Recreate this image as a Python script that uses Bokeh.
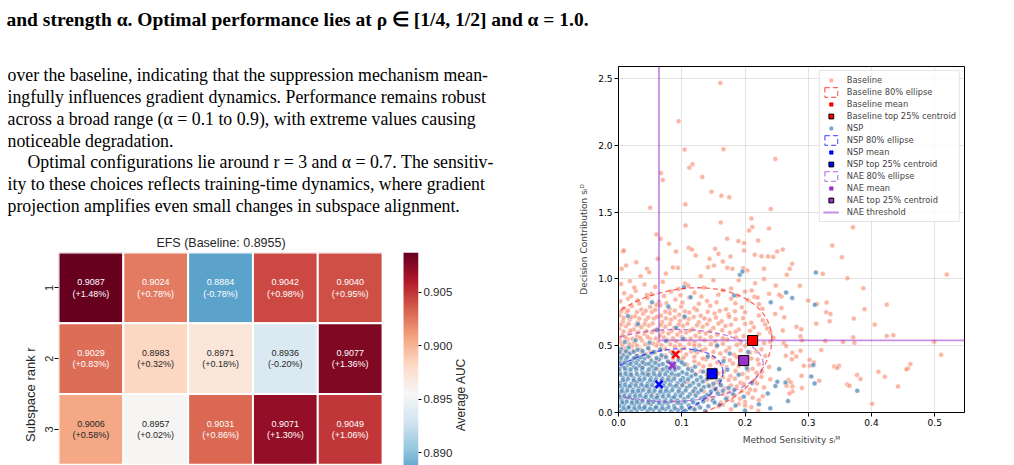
import numpy as np
from bokeh.plotting import figure
from bokeh.models import (Range1d, LinearAxis, FixedTicker, PrintfTickFormatter,
                          LinearColorMapper, ColumnDataSource, Legend, LegendItem)
from bokeh.layouts import column, row
from bokeh.transform import transform
from bokeh.core.properties import value
from bokeh.embed import file_html
from bokeh.resources import INLINE

# ------------------------------------------------------------------ text
caption = "and strength α. Optimal performance lies at ρ ∈ [1/4, 1/2] and α = 1.0."
para_lines = [
    "over the baseline, indicating that the suppression mechanism mean-",
    "ingfully influences gradient dynamics. Performance remains robust",
    "across a broad range (α = 0.1 to 0.9), with extreme values causing",
    "noticeable degradation.",
    "Optimal configurations lie around r = 3 and α = 0.7. The sensitiv-",
    "ity to these choices reflects training-time dynamics, where gradient",
    "projection amplifies even small changes in subspace alignment.",
]
para_indent = [0, 0, 0, 0, 1, 0, 0]

# ------------------------------------------------------------------ heatmap data
alphas = ["0.1", "0.3", "0.5", "0.7", "0.9"]
ranks = [1, 2, 3]
auc = [[0.9087, 0.9024, 0.8884, 0.9042, 0.9040],
       [0.9029, 0.8983, 0.8971, 0.8936, 0.9077],
       [0.9006, 0.8957, 0.9031, 0.9071, 0.9049]]
pct = [["+1.48%", "+0.78%", "-0.78%", "+0.98%", "+0.95%"],
       ["+0.83%", "+0.32%", "+0.18%", "-0.20%", "+1.36%"],
       ["+0.58%", "+0.02%", "+0.86%", "+1.30%", "+1.06%"]]
baseline_auc = 0.8955
cbar_low, cbar_high = 0.8823, 0.9087
cbar_ticks = [0.890, 0.895, 0.900, 0.905]
n_rank_rows = 4  # the heatmap continues below the page crop

# ------------------------------------------------------------------ scatter data
base_pts = [
    (0.161, 2.466), (0.095, 2.181), (0.1045, 1.968), (0.166, 1.971), (0.248, 1.898), (0.117, 1.858),
    (0.112, 1.833), (0.067, 1.793), (0.070, 1.740), (0.1325, 1.763), (0.147, 1.653), (0.1626, 1.623),
    (0.175, 1.611), (0.1056, 1.558), (0.050, 1.533), (0.2407, 1.523), (0.210, 1.453), (0.1615, 1.423),
    (0.106, 1.400), (0.2117, 1.388), (0.2065, 1.363), (0.238, 1.378), (0.060, 1.333), (0.1717, 1.301),
    (0.2207, 1.288), (0.007, 1.205), (0.091, 1.205), (0.111, 1.233), (0.116, 1.220), (0.1527, 1.226),
    (0.177, 1.168), (0.1986, 1.213), (0.2154, 1.181), (0.226, 1.170), (0.2365, 1.168), (0.2508, 1.205),
    (0.2597, 1.220), (0.338, 1.251), (0.353, 1.163), (0.3706, 1.386), (0.2746, 1.113), (0.2708, 1.076),
    (0.266, 1.031), (0.323, 1.038), (0.362, 1.005), (0.519, 1.033), (0.2866, 0.948), (0.387, 0.930),
    (0.2576, 0.868), (0.300, 0.838), (0.314, 0.813), (0.329, 0.823), (0.424, 0.808), (0.2576, 0.783),
    (0.389, 0.773), (0.3284, 0.750), (0.335, 0.738), (0.372, 0.703), (0.3337, 0.683), (0.3126, 0.665),
    (0.405, 0.658), (0.2814, 0.641), (0.289, 0.623), (0.2597, 0.613), (0.2877, 0.570), (0.424, 0.573),
    (0.4345, 0.578), (0.371, 0.563), (0.290, 0.540), (0.327, 0.536), (0.355, 0.528), (0.373, 0.521),
    (0.499, 0.528), (0.2614, 0.518), (0.265, 0.498), (0.510, 0.433), (0.3205, 0.468), (0.2877, 0.463),
    (0.2746, 0.448), (0.2645, 0.425), (0.281, 0.420), (0.302, 0.395), (0.274, 0.398), (0.293, 0.350),
    (0.3025, 0.350), (0.309, 0.375), (0.341, 0.345), (0.3484, 0.350), (0.3458, 0.333), (0.4614, 0.363),
    (0.4577, 0.330), (0.455, 0.323), (0.411, 0.305), (0.377, 0.280), (0.3827, 0.250), (0.421, 0.268),
    (0.2893, 0.275), (0.2687, 0.243), (0.3173, 0.238), (0.2724, 0.225), (0.2656, 0.200), (0.275, 0.195),
    (0.290, 0.183), (0.3617, 0.210), (0.3653, 0.200), (0.4418, 0.195), (0.275, 0.158), (0.2703, 0.143),
    (0.401, 0.065), (0.0085, 1.213), (0.028, 1.125), (0.080, 1.263), (0.045, 1.076), (0.0486, 1.050),
    (0.086, 1.085), (0.094, 1.083), (0.122, 1.176), (0.144, 1.150), (0.158, 1.188), (0.1895, 1.283),
    (0.1986, 1.268), (0.2445, 1.165), (0.1416, 1.088), (0.151, 1.100), (0.172, 1.083), (0.180, 1.076),
    (0.197, 1.080), (0.2038, 1.063), (0.230, 1.076), (0.216, 0.968), (0.2486, 0.950), (0.2106, 0.913),
    (0.238, 0.888), (0.254, 0.881), (0.2276, 0.776), (0.2477, 0.738), (0.262, 0.713), (0.005, 1.076),
    (0.0665, 1.300), (0.012, 1.100), (0.035, 1.020), (0.062, 1.150), (0.075, 1.040), (0.130, 1.020),
    (0.165, 1.130), (0.190, 0.990), (0.230, 1.000),
    # dense core
    (0.004, 0.962), (0.018, 0.985), (0.041, 0.958), (0.070, 0.978), (0.105, 0.966), (0.150, 0.990),
    (0.009, 0.893), (0.027, 0.911), (0.052, 0.887), (0.083, 0.905), (0.120, 0.896), (0.165, 0.915),
    (0.003, 0.832), (0.015, 0.851), (0.030, 0.838), (0.046, 0.857), (0.064, 0.829), (0.090, 0.846),
    (0.112, 0.861), (0.140, 0.835), (0.178, 0.852), (0.205, 0.840),
    (0.008, 0.778), (0.021, 0.796), (0.036, 0.771), (0.050, 0.790), (0.066, 0.802), (0.081, 0.775),
    (0.099, 0.793), (0.120, 0.780), (0.145, 0.799), (0.170, 0.773), (0.195, 0.788),
    (0.002, 0.728), (0.013, 0.746), (0.026, 0.721), (0.039, 0.740), (0.053, 0.752), (0.067, 0.725),
    (0.081, 0.743), (0.096, 0.731), (0.112, 0.749), (0.130, 0.724), (0.152, 0.741), (0.174, 0.733),
    (0.200, 0.750), (0.222, 0.727),
    (0.007, 0.681), (0.018, 0.697), (0.030, 0.673), (0.043, 0.690), (0.056, 0.703), (0.069, 0.677),
    (0.083, 0.694), (0.097, 0.684), (0.111, 0.700), (0.127, 0.675), (0.144, 0.692), (0.163, 0.683),
    (0.185, 0.698), (0.210, 0.672),
    (0.001, 0.628), (0.012, 0.645), (0.024, 0.622), (0.036, 0.639), (0.048, 0.651), (0.061, 0.625),
    (0.074, 0.642), (0.088, 0.632), (0.102, 0.649), (0.117, 0.624), (0.133, 0.641), (0.150, 0.633),
    (0.169, 0.648), (0.190, 0.621), (0.214, 0.638), (0.235, 0.629),
    (0.006, 0.579), (0.017, 0.596), (0.029, 0.572), (0.041, 0.589), (0.053, 0.601), (0.066, 0.575),
    (0.079, 0.592), (0.093, 0.583), (0.107, 0.599), (0.122, 0.574), (0.138, 0.591), (0.156, 0.582),
    (0.176, 0.597), (0.198, 0.571), (0.222, 0.588),
    (0.003, 0.529), (0.014, 0.546), (0.025, 0.522), (0.037, 0.539), (0.050, 0.551), (0.063, 0.525),
    (0.077, 0.542), (0.091, 0.533), (0.105, 0.549), (0.120, 0.523), (0.136, 0.540), (0.153, 0.532),
    (0.172, 0.547), (0.193, 0.521), (0.218, 0.538), (0.240, 0.530),
    (0.009, 0.481), (0.021, 0.497), (0.034, 0.474), (0.047, 0.490), (0.060, 0.502), (0.074, 0.477),
    (0.089, 0.494), (0.104, 0.484), (0.120, 0.499), (0.137, 0.475), (0.155, 0.492), (0.175, 0.483),
    (0.200, 0.498), (0.226, 0.473),
    (0.004, 0.431), (0.016, 0.447), (0.029, 0.424), (0.043, 0.440), (0.058, 0.452), (0.074, 0.427),
    (0.090, 0.444), (0.107, 0.434), (0.124, 0.449), (0.142, 0.425), (0.161, 0.442), (0.183, 0.433),
    (0.208, 0.448), (0.232, 0.423),
    (0.010, 0.381), (0.025, 0.396), (0.041, 0.374), (0.060, 0.390), (0.079, 0.378), (0.100, 0.393),
    (0.120, 0.383), (0.138, 0.398), (0.156, 0.375), (0.176, 0.391), (0.197, 0.382), (0.220, 0.396),
    (0.013, 0.331), (0.037, 0.346), (0.062, 0.324), (0.090, 0.340), (0.115, 0.329), (0.134, 0.344),
    (0.152, 0.322), (0.171, 0.338), (0.190, 0.349), (0.212, 0.327), (0.238, 0.341),
    (0.020, 0.281), (0.050, 0.296), (0.085, 0.274), (0.120, 0.290), (0.140, 0.279), (0.158, 0.294),
    (0.177, 0.272), (0.196, 0.288), (0.218, 0.298),
    (0.030, 0.231), (0.070, 0.246), (0.110, 0.224), (0.137, 0.240), (0.155, 0.229), (0.174, 0.244),
    (0.193, 0.222), (0.215, 0.238), (0.240, 0.248),
    (0.045, 0.181), (0.100, 0.196), (0.130, 0.174), (0.150, 0.190), (0.168, 0.179), (0.187, 0.194),
    (0.208, 0.172), (0.230, 0.188),
    (0.060, 0.131), (0.120, 0.146), (0.145, 0.124), (0.165, 0.140), (0.184, 0.129), (0.205, 0.144),
    (0.228, 0.122),
    (0.090, 0.081), (0.140, 0.096), (0.162, 0.074), (0.180, 0.090), (0.200, 0.079), (0.222, 0.094),
    (0.120, 0.031), (0.158, 0.046), (0.178, 0.024), (0.210, 0.040), (0.221, 0.012),
    (0.004, 0.757), (0.015, 0.763), (0.029, 0.752), (0.043, 0.761), (0.058, 0.768), (0.074, 0.755),
    (0.089, 0.764), (0.105, 0.758), (0.124, 0.766), (0.141, 0.754), (0.160, 0.762), (0.184, 0.757),
    (0.008, 0.708), (0.020, 0.714), (0.033, 0.703), (0.047, 0.711), (0.061, 0.717), (0.075, 0.705),
    (0.089, 0.712), (0.104, 0.707), (0.119, 0.715), (0.136, 0.704), (0.154, 0.711), (0.175, 0.716),
    (0.197, 0.706),
    (0.004, 0.658), (0.016, 0.664), (0.028, 0.653), (0.041, 0.661), (0.054, 0.667), (0.067, 0.655),
    (0.081, 0.662), (0.095, 0.657), (0.109, 0.665), (0.124, 0.654), (0.140, 0.661), (0.158, 0.666),
    (0.178, 0.656), (0.200, 0.663),
    (0.008, 0.607), (0.019, 0.613), (0.031, 0.602), (0.044, 0.610), (0.057, 0.616), (0.070, 0.604),
    (0.084, 0.611), (0.098, 0.606), (0.113, 0.614), (0.128, 0.603), (0.145, 0.610), (0.164, 0.615),
    (0.185, 0.605), (0.208, 0.612),
    (0.002, 0.557), (0.011, 0.563), (0.022, 0.552), (0.034, 0.560), (0.046, 0.566), (0.059, 0.554),
    (0.072, 0.561), (0.086, 0.556), (0.100, 0.564), (0.114, 0.553), (0.129, 0.560), (0.146, 0.565),
    (0.165, 0.555), (0.186, 0.562), (0.208, 0.557),
    (0.006, 0.507), (0.017, 0.513), (0.029, 0.502), (0.042, 0.510), (0.055, 0.516), (0.068, 0.504),
    (0.082, 0.511), (0.097, 0.506), (0.112, 0.514), (0.128, 0.503), (0.146, 0.510), (0.165, 0.515),
    (0.187, 0.505), (0.212, 0.512),
    (0.010, 0.458), (0.023, 0.464), (0.036, 0.453), (0.050, 0.461), (0.066, 0.467), (0.082, 0.455),
    (0.098, 0.462), (0.115, 0.457), (0.132, 0.465), (0.150, 0.454), (0.170, 0.461), (0.193, 0.466),
    (0.218, 0.456),
    (0.050, 0.408), (0.068, 0.414), (0.086, 0.403), (0.103, 0.411), (0.120, 0.417), (0.133, 0.405),
    (0.150, 0.412), (0.167, 0.407), (0.187, 0.415), (0.210, 0.404),
    (0.108, 0.358), (0.127, 0.364), (0.145, 0.353), (0.163, 0.361), (0.181, 0.367), (0.200, 0.355),
    (0.222, 0.362),
    (0.130, 0.308), (0.148, 0.314), (0.166, 0.303), (0.185, 0.311), (0.205, 0.317), (0.227, 0.305),
    (0.146, 0.258), (0.165, 0.264), (0.184, 0.253), (0.204, 0.261), (0.226, 0.267),
    (0.142, 0.208), (0.160, 0.214), (0.178, 0.203), (0.198, 0.211), (0.219, 0.217),
    (0.135, 0.158), (0.156, 0.164), (0.175, 0.153), (0.195, 0.161), (0.216, 0.167),
    (0.150, 0.108), (0.172, 0.114), (0.192, 0.103), (0.212, 0.111),
    (0.165, 0.058), (0.190, 0.064), (0.200, 0.053),
    (0.072, 0.872), (0.098, 0.878), (0.131, 0.869), (0.158, 0.882), (0.188, 0.874), (0.215, 0.866),
    (0.076, 0.818), (0.101, 0.823), (0.127, 0.814), (0.155, 0.826), (0.185, 0.817), (0.222, 0.811),
    (0.095, 0.924), (0.135, 0.935), (0.178, 0.928), (0.058, 0.940), (0.025, 0.935),
    (0.228, 0.690), (0.232, 0.660), (0.240, 0.600), (0.245, 0.560), (0.230, 0.520),
    (0.110, 0.950), (0.200, 0.905), (0.220, 0.860), (0.045, 0.880), (0.020, 0.870), (0.060, 0.805),
    (0.033, 0.815),
]

nsp_pts = [
    (0.312, 1.048), (0.265, 0.898), (0.2746, 0.858), (0.3104, 0.806), (0.308, 0.355), (0.3047, 0.270),
    (0.310, 0.218), (0.3775, 0.163), (0.268, 0.086), (0.192, 1.031), (0.196, 1.055), (0.114, 0.863),
    (0.1035, 0.938), (0.1827, 0.876), (0.1045, 0.718), (0.2407, 0.825), (0.053, 0.825), (0.0787, 0.793),
    (0.251, 0.230), (0.254, 0.325), (0.264, 0.225),
    (0.004, 0.012), (0.012, 0.021), (0.020, 0.008), (0.029, 0.018), (0.037, 0.026), (0.046, 0.010),
    (0.055, 0.020), (0.065, 0.014), (0.074, 0.024), (0.083, 0.009), (0.094, 0.019), (0.106, 0.013),
    (0.120, 0.022), (0.137, 0.011),
    (0.002, 0.050), (0.009, 0.062), (0.017, 0.045), (0.025, 0.057), (0.033, 0.066), (0.042, 0.049),
    (0.051, 0.060), (0.060, 0.044), (0.069, 0.055), (0.078, 0.067), (0.088, 0.048), (0.099, 0.059),
    (0.111, 0.052), (0.125, 0.064), (0.142, 0.047), (0.160, 0.058),
    (0.005, 0.094), (0.013, 0.105), (0.022, 0.088), (0.030, 0.100), (0.039, 0.110), (0.048, 0.092),
    (0.057, 0.103), (0.065, 0.087), (0.074, 0.098), (0.084, 0.109), (0.093, 0.091), (0.104, 0.101),
    (0.117, 0.094), (0.131, 0.106), (0.149, 0.090), (0.170, 0.102),
    (0.001, 0.136), (0.010, 0.147), (0.018, 0.130), (0.027, 0.142), (0.035, 0.152), (0.044, 0.134),
    (0.053, 0.145), (0.062, 0.129), (0.071, 0.140), (0.080, 0.151), (0.090, 0.133), (0.101, 0.144),
    (0.113, 0.137), (0.126, 0.149), (0.140, 0.131), (0.157, 0.143), (0.181, 0.138),
    (0.006, 0.178), (0.014, 0.189), (0.023, 0.172), (0.032, 0.184), (0.040, 0.194), (0.049, 0.176),
    (0.058, 0.187), (0.067, 0.171), (0.076, 0.182), (0.086, 0.193), (0.096, 0.175), (0.108, 0.186),
    (0.121, 0.179), (0.135, 0.191), (0.153, 0.174), (0.174, 0.185),
    (0.003, 0.220), (0.011, 0.231), (0.020, 0.214), (0.028, 0.226), (0.037, 0.236), (0.046, 0.218),
    (0.055, 0.229), (0.064, 0.213), (0.073, 0.224), (0.083, 0.235), (0.093, 0.217), (0.104, 0.228),
    (0.118, 0.221), (0.133, 0.232), (0.150, 0.216),
    (0.007, 0.262), (0.015, 0.273), (0.024, 0.256), (0.033, 0.268), (0.042, 0.278), (0.051, 0.260),
    (0.060, 0.271), (0.069, 0.255), (0.079, 0.266), (0.090, 0.277), (0.102, 0.259), (0.115, 0.270),
    (0.130, 0.263), (0.147, 0.275),
    (0.002, 0.304), (0.011, 0.315), (0.019, 0.298), (0.028, 0.310), (0.037, 0.320), (0.046, 0.302),
    (0.056, 0.313), (0.066, 0.297), (0.077, 0.308), (0.089, 0.319), (0.101, 0.301), (0.116, 0.312),
    (0.134, 0.305),
    (0.006, 0.346), (0.015, 0.357), (0.024, 0.340), (0.033, 0.352), (0.043, 0.362), (0.053, 0.344),
    (0.064, 0.355), (0.076, 0.339), (0.089, 0.350), (0.104, 0.361), (0.121, 0.343),
    (0.003, 0.388), (0.012, 0.399), (0.021, 0.382), (0.031, 0.394), (0.041, 0.404), (0.052, 0.386),
    (0.064, 0.397), (0.078, 0.381), (0.095, 0.392),
    (0.008, 0.430), (0.018, 0.441), (0.029, 0.424), (0.040, 0.436), (0.053, 0.446), (0.068, 0.428),
    (0.086, 0.439),
    (0.004, 0.475), (0.016, 0.486), (0.030, 0.469), (0.047, 0.481), (0.066, 0.472),
    (0.010, 0.528), (0.027, 0.541), (0.049, 0.523), (0.075, 0.536),
    (0.185, 0.052), (0.198, 0.118), (0.211, 0.221), (0.190, 0.283), (0.222, 0.061), (0.203, 0.332),
    (0.166, 0.384), (0.141, 0.418), (0.121, 0.468), (0.102, 0.552), (0.061, 0.618), (0.031, 0.662),
    (0.015, 0.721), (0.091, 0.634), (0.236, 0.142), (0.248, 0.198), (0.240, 0.031), (0.176, 0.441),
    (0.156, 0.502), (0.205, 0.452), (0.160, 0.240), (0.172, 0.320), (0.183, 0.170), (0.200, 0.015),
    (0.008, 0.034), (0.016, 0.038), (0.025, 0.031), (0.033, 0.040), (0.041, 0.035), (0.050, 0.029),
    (0.059, 0.037), (0.069, 0.032), (0.079, 0.039), (0.089, 0.030), (0.100, 0.036), (0.113, 0.033),
    (0.129, 0.038),
    (0.006, 0.076), (0.013, 0.081), (0.021, 0.072), (0.029, 0.079), (0.038, 0.084), (0.047, 0.074),
    (0.055, 0.080), (0.064, 0.071), (0.073, 0.078), (0.083, 0.085), (0.094, 0.073), (0.105, 0.080),
    (0.118, 0.076), (0.134, 0.083), (0.152, 0.074),
    (0.002, 0.118), (0.009, 0.124), (0.017, 0.114), (0.026, 0.121), (0.034, 0.127), (0.043, 0.116),
    (0.052, 0.122), (0.061, 0.113), (0.070, 0.120), (0.079, 0.126), (0.088, 0.115), (0.098, 0.123),
    (0.110, 0.118), (0.122, 0.126), (0.136, 0.115),
    (0.005, 0.159), (0.014, 0.165), (0.022, 0.156), (0.031, 0.162), (0.039, 0.168), (0.048, 0.157),
    (0.057, 0.163), (0.066, 0.155), (0.075, 0.161), (0.085, 0.167), (0.095, 0.158), (0.106, 0.164),
    (0.118, 0.160), (0.131, 0.166), (0.146, 0.157), (0.165, 0.163),
    (0.002, 0.200), (0.010, 0.206), (0.018, 0.197), (0.027, 0.203), (0.036, 0.209), (0.045, 0.198),
    (0.053, 0.204), (0.062, 0.196), (0.071, 0.202), (0.081, 0.208), (0.091, 0.199), (0.101, 0.205),
    (0.113, 0.201), (0.127, 0.207), (0.143, 0.198), (0.162, 0.204),
    (0.007, 0.243), (0.015, 0.249), (0.024, 0.240), (0.033, 0.246), (0.041, 0.252), (0.050, 0.241),
    (0.059, 0.247), (0.068, 0.239), (0.078, 0.245), (0.088, 0.251), (0.098, 0.242), (0.110, 0.248),
    (0.124, 0.244), (0.140, 0.250),
    (0.003, 0.284), (0.011, 0.290), (0.020, 0.281), (0.029, 0.287), (0.038, 0.293), (0.047, 0.282),
    (0.056, 0.288), (0.065, 0.280), (0.074, 0.286), (0.084, 0.292), (0.095, 0.283), (0.108, 0.289),
    (0.122, 0.285),
    (0.001, 0.326), (0.010, 0.332), (0.019, 0.323), (0.028, 0.329), (0.038, 0.335), (0.048, 0.324),
    (0.059, 0.330), (0.070, 0.322), (0.082, 0.328), (0.095, 0.334), (0.110, 0.325),
    (0.002, 0.367), (0.010, 0.373), (0.019, 0.364), (0.028, 0.370), (0.038, 0.376), (0.048, 0.365),
    (0.058, 0.371), (0.070, 0.363), (0.084, 0.369), (0.100, 0.375),
    (0.004, 0.410), (0.014, 0.416), (0.024, 0.407), (0.035, 0.413), (0.047, 0.419), (0.060, 0.408),
    (0.075, 0.414),
    (0.002, 0.452), (0.012, 0.458), (0.024, 0.455), (0.038, 0.461), (0.056, 0.453),
]

groups = ["Baseline", "NSP", "NAE"]
group_colors = ["red", "blue", "darkorchid"]
means = [(0.0904, 0.434), (0.0641, 0.210), (0.0847, 0.352)]
top25 = [(0.212, 0.539), (0.148, 0.290), (0.198, 0.389)]
# 80% ellipse: half extent along x, half extent along y, correlation
ell_extent = [(0.152, 0.50), (0.101, 0.267), (0.144, 0.27)]
ell_corr = [0.23, 0.35, 0.05]
nae_tau_x, nae_tau_y = 0.064, 0.54

# ------------------------------------------------------------------ layout constants
W, H = 1014, 465
TOP_H, LEFT_W, TEXT_H = 40, 565, 210
HEAT_H = H - TOP_H - TEXT_H          # 215
YLAB_W, HM_W = 38, 417
AVG_W = LEFT_W - YLAB_W - HM_W


def blank(width, height):
    f = figure(width=width, height=height, x_range=Range1d(0, width), y_range=Range1d(height, 0),
               output_backend="svg", toolbar_location=None, min_border=0,
               x_axis_location=None, y_axis_location=None)
    f.grid.visible = False
    f.outline_line_color = None
    return f


# caption
cap = blank(W, TOP_H)
cap.text(x=[6], y=[19], text=[caption], text_font=value("Liberation Serif"), text_font_size="19.5px",
         text_font_style="bold", text_baseline="alphabetic", text_color="black")

# paragraph + heatmap title
txt = blank(LEFT_W, TEXT_H)
txt.text(x=[7 + 20 * i for i in para_indent], y=[34.3 + 21.9 * k for k in range(len(para_lines))],
         text=para_lines, text_font=value("Liberation Serif"), text_font_size="17.8px",
         text_baseline="alphabetic", text_color="black")
txt.text(x=[220.5], y=[202.5], text=["EFS (Baseline: %.4f)" % baseline_auc],
         text_font=value("Liberation Sans"), text_font_size="12.5px", text_align="center",
         text_baseline="middle", text_color="#262626")

# ------------------------------------------------------------------ heatmap
anchors = ['#053061', '#2166ac', '#4393c3', '#92c5de', '#d1e5f0', '#f7f7f7',
           '#fddbc7', '#f4a582', '#d6604d', '#b2182b', '#67001f']


def h2rgb(h):
    return np.array([int(h[i:i + 2], 16) for i in (1, 3, 5)], dtype=float)


anc = np.array([h2rgb(a) for a in anchors])
pos = np.linspace(0, 1, len(anchors))
N = 256
palette = []
for tt in np.linspace(0, 1, N):
    c = [np.interp(tt, pos, anc[:, k]) for k in range(3)]
    palette.append("#%02x%02x%02x" % tuple(int(round(v)) for v in c))

mapper = LinearColorMapper(palette=palette, low=cbar_low, high=cbar_high)


def lum(hexc):
    c = h2rgb(hexc) / 255.0
    c = np.where(c <= 0.03928, c / 12.92, ((c + 0.055) / 1.055) ** 2.4)
    return 0.2126 * c[0] + 0.7152 * c[1] + 0.0722 * c[2]


xs, ys, vals, vtxt, ptxt, tcol = [], [], [], [], [], []
for ri, r in enumerate(ranks):
    for ci, a in enumerate(alphas):
        v = auc[ri][ci]
        idx = min(N - 1, max(0, int((v - cbar_low) / (cbar_high - cbar_low) * N)))
        xs.append(ci + 1)
        ys.append(r)
        vals.append(v)
        vtxt.append("%.4f" % v)
        ptxt.append("(%s)" % pct[ri][ci])
        tcol.append("#262626" if lum(palette[idx]) > 0.408 else "white")
hsrc = ColumnDataSource(dict(x=xs, y=ys, auc=vals, v=vtxt, p=ptxt, tc=tcol))

ROW_PX = 70.75
HM_TOP = 2
row_bottom = 0.5 + (HEAT_H - HM_TOP) / ROW_PX
hm = figure(width=HM_W, height=HEAT_H, x_range=Range1d(0.5, 6.054), y_range=Range1d(row_bottom, 0.5),
            output_backend="svg", toolbar_location=None, min_border_left=58 - YLAB_W,
            min_border_right=YLAB_W + HM_W - 419, min_border_top=HM_TOP, min_border_bottom=0,
            x_axis_location=None, y_axis_location="left")
hm.grid.visible = False
hm.outline_line_color = None
frac = (row_bottom - 0.5) / n_rank_rows
hm.extra_y_ranges = {"cbar": Range1d(cbar_high - frac * (cbar_high - cbar_low), cbar_high)}

hm.rect(x="x", y="y", width=1, height=1, source=hsrc, fill_color=transform("auc", mapper),
        line_color="white", line_width=2)
hm.text(x="x", y="y", text="v", source=hsrc, text_color="tc", text_font=value("Liberation Sans"),
        text_font_size="9px", text_align="center", text_baseline="middle", y_offset=-5.7)
hm.text(x="x", y="y", text="p", source=hsrc, text_color="tc", text_font=value("Liberation Sans"),
        text_font_size="9px", text_align="center", text_baseline="middle", y_offset=5.7)

grad = np.linspace(cbar_low, cbar_high, 256).reshape(256, 1)
hm.image(image=[grad], x=5.823, y=cbar_low, dw=0.231, dh=cbar_high - cbar_low,
         color_mapper=mapper, y_range_name="cbar")

yax = hm.yaxis[0]
yax.ticker = FixedTicker(ticks=ranks)
yax.major_label_orientation = "vertical"
yax.axis_line_color = None
yax.major_tick_out = 4
yax.major_tick_in = 0
yax.minor_tick_out = 0
yax.minor_tick_in = 0
yax.major_label_standoff = 2
yax.major_label_text_font = "Liberation Sans"
yax.major_label_text_font_size = "11px"
yax.major_label_text_color = "#262626"

cax = LinearAxis(y_range_name="cbar", ticker=FixedTicker(ticks=cbar_ticks),
                 formatter=PrintfTickFormatter(format="%.3f"))
cax.axis_line_color = None
cax.major_tick_out = 3
cax.major_tick_in = 0
cax.minor_tick_out = 0
cax.minor_tick_in = 0
cax.major_label_standoff = 2
cax.major_label_text_font = "Liberation Sans"
cax.major_label_text_font_size = "11.5px"
cax.major_label_text_color = "#262626"
hm.add_layout(cax, "right")

# side labels (centred on the full 4-row heatmap, which continues below the crop)
label_y = HM_TOP + ROW_PX * n_rank_rows / 2
ylab = blank(YLAB_W, HEAT_H)
ylab.text(x=[30], y=[label_y], text=["Subspace rank r"], angle=np.pi / 2,
          text_font=value("Liberation Sans"), text_font_size="13px", text_align="center",
          text_baseline="middle", text_color="#262626")
avg = blank(AVG_W, HEAT_H)
avg.text(x=[460 - YLAB_W - HM_W], y=[label_y], text=["Average AUC"], angle=np.pi / 2,
         text_font=value("Liberation Sans"), text_font_size="12px", text_align="center",
         text_baseline="middle", text_color="#262626")

# ------------------------------------------------------------------ scatter
sc = figure(width=W - LEFT_W, height=H - TOP_H, x_range=Range1d(0, 0.547), y_range=Range1d(0, 2.59),
            output_backend="svg", toolbar_location=None, min_border_left=53, min_border_right=50,
            min_border_top=26, min_border_bottom=53)
sc.outline_line_color = "black"
sc.outline_line_width = 1
sc.grid.grid_line_color = "#b0b0b0"
sc.grid.grid_line_alpha = 0.35
sc.xaxis.ticker = FixedTicker(ticks=[0.0, 0.1, 0.2, 0.3, 0.4, 0.5])
sc.yaxis.ticker = FixedTicker(ticks=[0.0, 0.5, 1.0, 1.5, 2.0, 2.5])
sc.xaxis.axis_label = "Method Sensitivity sᵢᴹ"
sc.yaxis.axis_label = "Decision Contribution sᵢᴰ"
for ax in (sc.xaxis[0], sc.yaxis[0]):
    ax.formatter = PrintfTickFormatter(format="%.1f")
    ax.major_tick_out = 4
    ax.major_tick_in = 0
    ax.minor_tick_out = 0
    ax.minor_tick_in = 0
    ax.axis_line_color = "black"
    ax.major_label_text_font = "DejaVu Sans"
    ax.major_label_text_font_size = "9px"
    ax.major_label_text_color = "black"
    ax.major_label_standoff = 2
    ax.axis_label_text_font = "DejaVu Sans"
    ax.axis_label_text_font_size = "9px"
    ax.axis_label_text_font_style = "normal"
    ax.axis_label_standoff = 6

bx, by = zip(*base_pts)
nx, ny = zip(*nsp_pts)
r_base = sc.scatter(list(bx), list(by), size=5, fill_color="#f78466", fill_alpha=0.6,
                    line_color="white", line_width=0.5)
r_nsp = sc.scatter(list(nx), list(ny), size=5, fill_color="#4682b4", fill_alpha=0.7,
                   line_color="white", line_width=0.5)

t = np.linspace(0, 2 * np.pi, 240)
r_ell, r_mean, r_top = [], [], []
for g in range(3):
    cx, cy = means[g]
    ax_, ay_ = ell_extent[g]
    rho = ell_corr[g]
    ex = cx + ax_ * np.cos(t)
    ey = cy + ay_ * (rho * np.cos(t) + np.sqrt(1 - rho ** 2) * np.sin(t))
    r_ell.append(sc.patch(ex, ey, fill_color=None, line_color=group_colors[g], line_alpha=0.6,
                          line_width=1.3, line_dash="5 3"))

r_thr = sc.line([nae_tau_x, nae_tau_x, sc.x_range.end * 2], [sc.y_range.end * 2, nae_tau_y, nae_tau_y],
                line_color="#9932cc", line_alpha=0.55, line_width=1.8)

for g in range(3):
    r_mean.append(sc.scatter([means[g][0]], [means[g][1]], marker="x", size=10, line_color=group_colors[g],
                             line_width=2.5))
for g in range(3):
    r_top.append(sc.scatter([top25[g][0]], [top25[g][1]], marker="square", size=10,
                            fill_color=group_colors[g], line_color="black", line_width=1))

items = [
    LegendItem(label="Baseline", renderers=[r_base]),
    LegendItem(label="Baseline 80% ellipse", renderers=[r_ell[0]]),
    LegendItem(label="Baseline mean", renderers=[r_mean[0]]),
    LegendItem(label="Baseline top 25% centroid", renderers=[r_top[0]]),
    LegendItem(label="NSP", renderers=[r_nsp]),
    LegendItem(label="NSP 80% ellipse", renderers=[r_ell[1]]),
    LegendItem(label="NSP mean", renderers=[r_mean[1]]),
    LegendItem(label="NSP top 25% centroid", renderers=[r_top[1]]),
    LegendItem(label="NAE 80% ellipse", renderers=[r_ell[2]]),
    LegendItem(label="NAE mean", renderers=[r_mean[2]]),
    LegendItem(label="NAE top 25% centroid", renderers=[r_top[2]]),
    LegendItem(label="NAE threshold", renderers=[r_thr]),
]
legend = Legend(items=items, location="top_right", margin=4, padding=3, spacing=0,
                label_text_font="DejaVu Sans", label_text_font_size="8.3px", label_height=12,
                glyph_height=12, glyph_width=16, label_standoff=8,
                border_line_color="#cccccc", border_line_width=1,
                background_fill_color="white", background_fill_alpha=0.8)
sc.add_layout(legend)

page = column(cap, row(column(txt, row(ylab, hm, avg)), sc))
open("out.html", "w").write(file_html(page, INLINE))
